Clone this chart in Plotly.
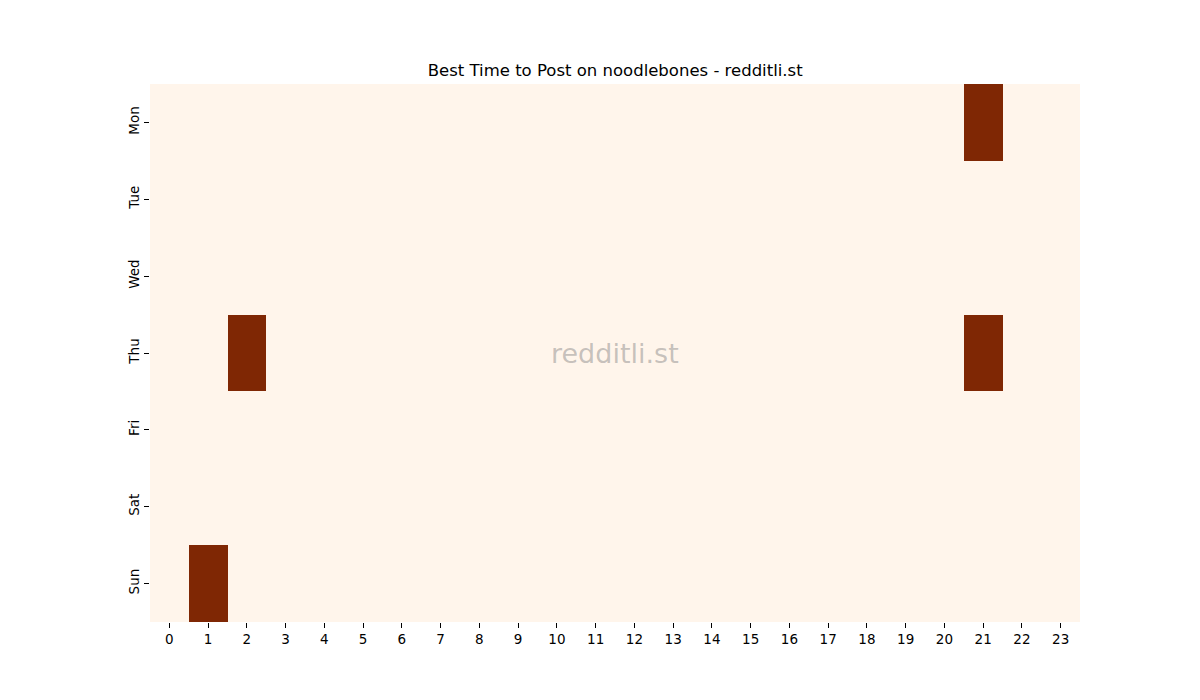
import plotly.graph_objects as go

# days and hours of the heatmap
days = ["Mon", "Tue", "Wed", "Thu", "Fri", "Sat", "Sun"]
hours = list(range(24))

# best hours per day (1 = best), everything else 0
mon = [0]*21 + [1] + [0]*2
tue = [0]*24
wed = [0]*24
thu = [0]*2 + [1] + [0]*18 + [1] + [0]*2
fri = [0]*24
sat = [0]*24
sun = [0] + [1] + [0]*22

z = [mon, tue, wed, thu, fri, sat, sun]

fig = go.Figure(go.Heatmap(
    z=z,
    x=hours,
    y=days,
    colorscale=[[0, "#fff5eb"], [1, "#7f2704"]],
    zmin=0, zmax=1,
    showscale=False,
    xgap=0, ygap=0,
    hoverinfo="skip",
))

fig.update_layout(
    width=1200, height=700,
    margin=dict(l=142, r=128, t=76, b=86),
    paper_bgcolor="white",
    plot_bgcolor="white",
    font=dict(family="DejaVu Sans", size=13.5, color="black"),
    title=dict(text="Best Time to Post on noodlebones - redditli.st",
               x=0.506, xanchor="center", y=0.911, yanchor="middle",
               font=dict(size=16.5)),
    annotations=[dict(
        text="redditli.st", x=0.5, y=0.5, xref="paper", yref="paper",
        showarrow=False, font=dict(size=27, color="rgba(128,128,128,0.45)"),
    )],
)
fig.update_xaxes(
    tickmode="array", tickvals=hours, ticktext=[str(h) for h in hours],
    ticks="outside", ticklen=5, tickcolor="black", showgrid=False,
    zeroline=False, showline=False, range=[-0.5, 23.5],
)
fig.update_yaxes(
    autorange="reversed", tickangle=-90,
    ticks="outside", ticklen=5, tickcolor="black", showgrid=False,
    zeroline=False, showline=False,
)

fig.write_html("out.html")
